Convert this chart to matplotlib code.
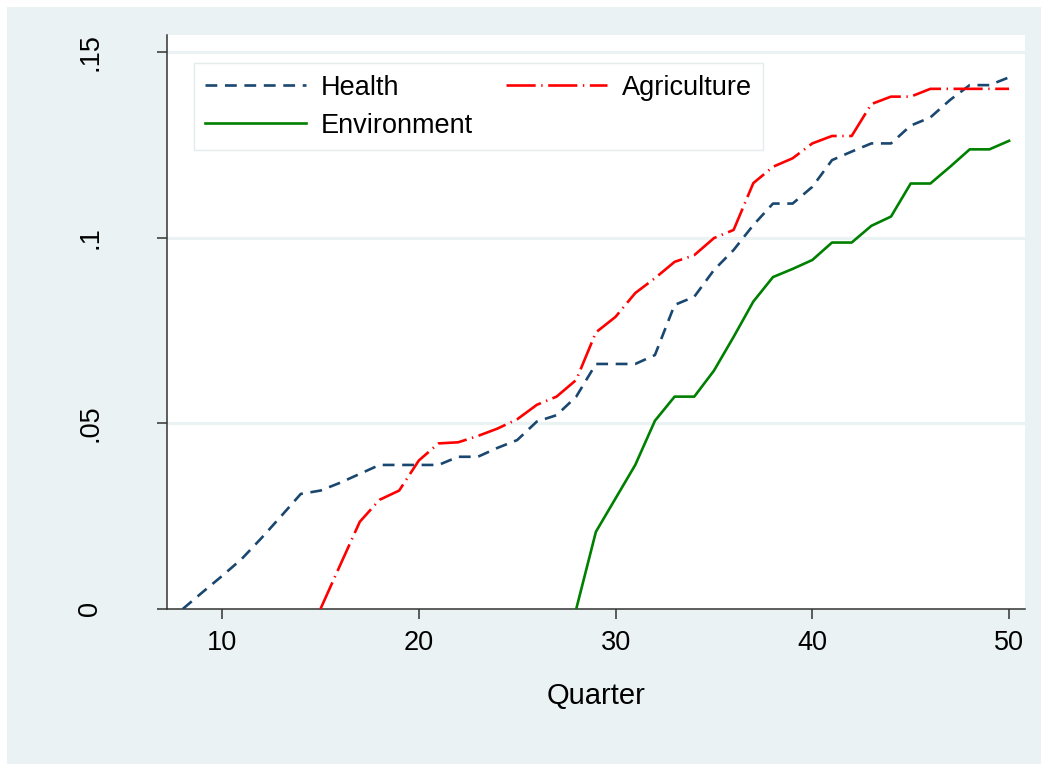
import matplotlib
matplotlib.use("Agg")
import matplotlib.pyplot as plt
from matplotlib.patches import Rectangle

plt.rcParams["font.family"] = ["Liberation Sans", "DejaVu Sans"]
plt.rcParams["lines.scale_dashes"] = False

# cumulative shares by quarter
health_q = list(range(8, 51))
health = [0.0, 0.0045, 0.0089, 0.0135, 0.0191, 0.025, 0.031, 0.0319, 0.034, 0.0364,
          0.0388, 0.0388, 0.0388, 0.0388, 0.041, 0.041, 0.0434, 0.0455, 0.0505, 0.0522,
          0.0572, 0.066, 0.066, 0.066, 0.0684, 0.0819, 0.0841, 0.0913, 0.0967, 0.1034,
          0.1092, 0.1092, 0.1137, 0.1209, 0.1232, 0.1254, 0.1254, 0.1302, 0.1324, 0.1371,
          0.1411, 0.1411, 0.1432]

agri_q = list(range(15, 51))
agri = [0.0, 0.0118, 0.0235, 0.0294, 0.0319, 0.0400, 0.0446, 0.0449, 0.0466, 0.0486,
        0.0511, 0.055, 0.0572, 0.0617, 0.0745, 0.0787, 0.0851, 0.0891, 0.0935, 0.0953,
        0.0999, 0.1021, 0.1147, 0.1191, 0.1214, 0.1254, 0.1274, 0.1274, 0.136, 0.138,
        0.138, 0.1401, 0.1401, 0.1401, 0.1401, 0.1401]

env_q = list(range(28, 51))
env = [0.0, 0.0208, 0.0298, 0.0388, 0.0507, 0.0572, 0.0572, 0.0642, 0.0733, 0.0828,
       0.0894, 0.0916, 0.094, 0.0987, 0.0987, 0.1032, 0.1057, 0.1146, 0.1146, 0.1191,
       0.1238, 0.1238, 0.1261]

y_ticks = [0, 0.05, 0.1, 0.15]
y_labels = ["0", ".05", ".1", ".15"]
x_ticks = [10, 20, 30, 40, 50]

bg = "#EAF2F3"
W, H = 1041, 764

fig = plt.figure(figsize=(W / 100, H / 100), dpi=100)
fig.patch.set_facecolor("white")
# shaded graph region with thin white margin at top/left
fig.add_artist(Rectangle((7 / W, 0), 1 - 7 / W, 1 - 7 / H, transform=fig.transFigure,
                         facecolor=bg, edgecolor="none", zorder=-10))

ax = fig.add_axes([167 / W, 1 - 609 / H, (1025 - 167) / W, (609 - 35) / H])
ax.set_facecolor("white")

for yv in y_ticks[1:]:
    ax.axhline(yv, color=bg, lw=2.2, zorder=1)

ax.plot(health_q, health, color="#1A476F", lw=1.9, dashes=(8.5, 5.5),
        label="Health", zorder=3)
ax.plot(agri_q, agri, color="#FF0000", lw=1.9, dashes=(21, 4, 1, 4),
        label="Agriculture", zorder=3)
ax.plot(env_q, env, color="#008000", lw=1.9, label="Environment", zorder=3)

ax.set_xlim(7.2, 50.81)
ax.set_ylim(0, 0.1546)

ax.set_xticks(x_ticks)
ax.set_yticks(y_ticks)
ax.set_yticklabels(y_labels, rotation=90, va="center")
ax.tick_params(axis="both", labelsize=19.5, length=7, width=1.1, color="#333333")
ax.tick_params(axis="y", pad=39)
ax.tick_params(axis="x", pad=8)

for s in ["top", "right"]:
    ax.spines[s].set_visible(False)
for s in ["left", "bottom"]:
    ax.spines[s].set_color("#333333")
    ax.spines[s].set_linewidth(1.1)

ax.set_xlabel("Quarter", fontsize=21, labelpad=19)

# legend order: Health, Environment in first column, Agriculture in second
h, l = ax.get_legend_handles_labels()
order = [0, 2, 1]
leg = ax.legend([h[i] for i in order], [l[i] for i in order], ncol=2,
                loc="upper left", bbox_to_anchor=(0.0315, 0.951), borderaxespad=0,
                fontsize=19.5, handlelength=3.7, handletextpad=0.55,
                columnspacing=1.25, labelspacing=0.45, borderpad=0.42,
                fancybox=False, framealpha=1)
leg.get_frame().set_edgecolor("#E4ECEE")
leg.get_frame().set_linewidth(1.0)

fig.savefig("out.png", dpi=100, facecolor=fig.get_facecolor())
